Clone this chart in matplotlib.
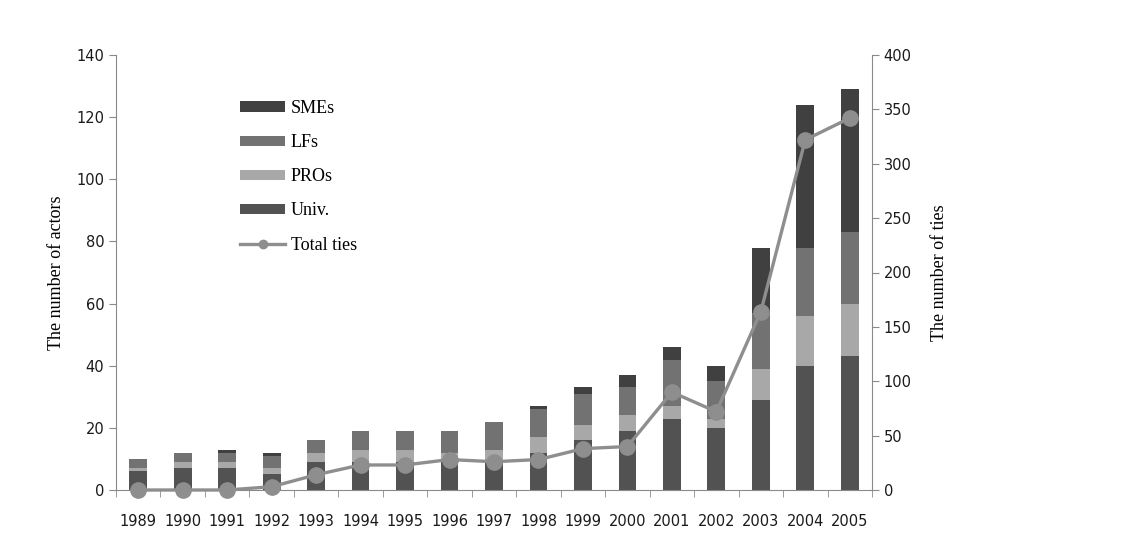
import matplotlib
matplotlib.use("Agg")
import matplotlib.pyplot as plt
from matplotlib.lines import Line2D
from matplotlib.ticker import FixedLocator, NullFormatter
import numpy as np

years = ["1989", "1990", "1991", "1992", "1993", "1994", "1995", "1996", "1997",
         "1998", "1999", "2000", "2001", "2002", "2003", "2004", "2005"]
univ = [6, 7, 7, 5, 9, 9, 9, 9, 9, 12, 16, 19, 23, 20, 29, 40, 43]
pros = [1, 2, 2, 2, 3, 4, 4, 3, 4, 5, 5, 5, 4, 3, 10, 16, 17]
lfs = [3, 3, 3, 4, 4, 6, 6, 7, 9, 9, 10, 9, 15, 12, 18, 22, 23]
smes = [0, 0, 1, 1, 0, 0, 0, 0, 0, 1, 2, 4, 4, 5, 21, 46, 46]
total_ties = [0, 0, 0, 3, 14, 23, 23, 28, 26, 28, 38, 40, 90, 72, 164, 322, 342]

c_univ = "#525252"
c_pros = "#a8a8a8"
c_lfs = "#727272"
c_smes = "#404040"
c_line = "#8e8e8e"
c_spine = "#8a8a8a"

serif = ["Liberation Serif", "DejaVu Serif"]
sans = ["DejaVu Sans"]

fig = plt.figure(figsize=(11.4, 5.57), dpi=100)
ax = fig.add_axes([116 / 1140, 67 / 557, (872 - 116) / 1140, (490 - 55) / 557])

x = np.arange(len(years))
w = 0.4
b1 = np.array(univ)
b2 = b1 + np.array(pros)
b3 = b2 + np.array(lfs)
h_univ = ax.bar(x, univ, w, color=c_univ, label="Univ.")
h_pros = ax.bar(x, pros, w, bottom=b1, color=c_pros, label="PROs")
h_lfs = ax.bar(x, lfs, w, bottom=b2, color=c_lfs, label="LFs")
h_smes = ax.bar(x, smes, w, bottom=b3, color=c_smes, label="SMEs")

ax.set_xlim(-0.5, len(years) - 0.5)
ax.set_ylim(0, 140)
ax.set_yticks(np.arange(0, 141, 20))
ax.set_xticks(x)
ax.set_xticklabels(years, fontfamily=sans, fontsize=10.5, color="#1a1a1a")
ax.tick_params(axis="x", which="major", length=0, pad=17)
ax.xaxis.set_minor_locator(FixedLocator(np.arange(-0.5, len(years), 1.0)))
ax.xaxis.set_minor_formatter(NullFormatter())
ax.tick_params(axis="x", which="minor", length=5, color=c_spine, direction="out")
ax.tick_params(axis="y", length=5, color=c_spine, labelsize=10.5, labelcolor="#1a1a1a")
for lab in ax.get_yticklabels():
    lab.set_fontfamily(sans)
for s in ["top", "right"]:
    ax.spines[s].set_visible(False)
ax.spines["left"].set_color(c_spine)
ax.spines["bottom"].set_color(c_spine)
ax.set_ylabel("The number of actors", fontfamily=serif, fontsize=13, labelpad=8)

ax2 = ax.twinx()
ax2.set_ylim(0, 400)
ax2.set_yticks(np.arange(0, 401, 50))
ax2.plot(x, total_ties, color=c_line, linewidth=2.4, marker="o", markersize=11,
         clip_on=False, zorder=5)
for s in ["top", "left", "bottom"]:
    ax2.spines[s].set_visible(False)
ax2.spines["right"].set_color(c_spine)
ax2.tick_params(axis="y", length=5, color=c_spine, labelsize=10.5, labelcolor="#1a1a1a")
for lab in ax2.get_yticklabels():
    lab.set_fontfamily(sans)
ax2.set_ylabel("The number of ties", fontfamily=serif, fontsize=13, labelpad=14)

line_proxy = Line2D([], [], color=c_line, linewidth=2.4, marker="o", markersize=6)
leg = fig.legend([h_smes, h_lfs, h_pros, h_univ, line_proxy],
                 ["SMEs", "LFs", "PROs", "Univ.", "Total ties"],
                 loc="upper left", bbox_to_anchor=(240 / 1140, (557 - 100) / 557),
                 frameon=False, borderpad=0, borderaxespad=0,
                 handlelength=2.5, handleheight=0.5, handletextpad=0.3,
                 labelspacing=0.95, prop={"family": serif, "size": 13})

fig.savefig("out.png", dpi=100)
